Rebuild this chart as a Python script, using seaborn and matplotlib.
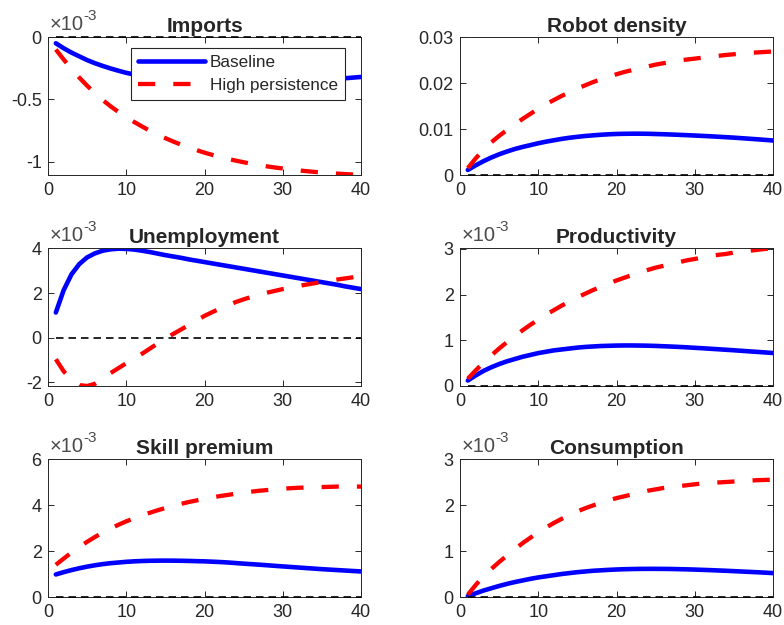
import numpy as np
import pandas as pd
import matplotlib
matplotlib.use("Agg")
import matplotlib.pyplot as plt
from matplotlib.ticker import FuncFormatter
import seaborn as sns

# Impulse responses, horizon 1..40 (quarters)
horizon = list(range(1, 41))

imports_base = [-0.050, -0.090, -0.125, -0.155, -0.185, -0.210, -0.232, -0.252, -0.270, -0.287,
                -0.300, -0.313, -0.324, -0.334, -0.342, -0.350, -0.356, -0.361, -0.365, -0.368,
                -0.370, -0.372, -0.373, -0.373, -0.373, -0.372, -0.370, -0.368, -0.366, -0.363,
                -0.360, -0.357, -0.353, -0.349, -0.345, -0.340, -0.335, -0.330, -0.325, -0.320]
imports_high = [-0.100, -0.180, -0.255, -0.325, -0.390, -0.450, -0.505, -0.555, -0.600, -0.642,
                -0.680, -0.716, -0.750, -0.781, -0.810, -0.837, -0.862, -0.885, -0.906, -0.926,
                -0.944, -0.961, -0.976, -0.990, -1.003, -1.015, -1.026, -1.036, -1.045, -1.053,
                -1.061, -1.068, -1.074, -1.080, -1.085, -1.090, -1.094, -1.098, -1.101, -1.104]

robots_base = [0.110, 0.210, 0.300, 0.380, 0.450, 0.510, 0.565, 0.610, 0.650, 0.690,
               0.725, 0.755, 0.785, 0.810, 0.830, 0.848, 0.862, 0.875, 0.885, 0.892,
               0.896, 0.898, 0.898, 0.896, 0.891, 0.886, 0.880, 0.873, 0.866, 0.858,
               0.850, 0.841, 0.832, 0.822, 0.812, 0.800, 0.788, 0.776, 0.763, 0.750]
robots_high = [0.15, 0.36, 0.55, 0.71, 0.85, 0.98, 1.10, 1.22, 1.33, 1.44,
               1.54, 1.63, 1.72, 1.80, 1.88, 1.95, 2.02, 2.08, 2.14, 2.19,
               2.24, 2.28, 2.32, 2.36, 2.40, 2.43, 2.46, 2.49, 2.51, 2.53,
               2.55, 2.57, 2.59, 2.61, 2.625, 2.64, 2.655, 2.665, 2.675, 2.685]

unemp_base = [1.13, 2.13, 2.84, 3.30, 3.60, 3.78, 3.90, 3.96, 3.99, 3.98,
              3.95, 3.90, 3.84, 3.77, 3.70, 3.64, 3.58, 3.51, 3.45, 3.39,
              3.33, 3.27, 3.21, 3.15, 3.09, 3.03, 2.97, 2.91, 2.85, 2.79,
              2.73, 2.67, 2.61, 2.55, 2.49, 2.43, 2.37, 2.30, 2.24, 2.18]
unemp_high = [-0.96, -1.50, -1.88, -2.12, -2.16, -2.06, -1.82, -1.58, -1.36, -1.14,
              -0.93, -0.72, -0.49, -0.26, -0.04, 0.17, 0.37, 0.57, 0.77, 0.98,
              1.15, 1.31, 1.46, 1.60, 1.72, 1.83, 1.93, 2.02, 2.10, 2.18,
              2.25, 2.32, 2.38, 2.44, 2.50, 2.55, 2.61, 2.66, 2.71, 2.76]

prod_base = [0.12, 0.23, 0.33, 0.41, 0.48, 0.54, 0.59, 0.64, 0.68, 0.72,
             0.75, 0.78, 0.80, 0.82, 0.84, 0.855, 0.865, 0.875, 0.88, 0.885,
             0.887, 0.887, 0.885, 0.882, 0.877, 0.870, 0.863, 0.855, 0.846, 0.836,
             0.826, 0.815, 0.804, 0.793, 0.782, 0.770, 0.758, 0.746, 0.734, 0.722]
prod_high = [0.16, 0.34, 0.51, 0.67, 0.82, 0.96, 1.09, 1.22, 1.34, 1.45,
             1.56, 1.66, 1.76, 1.85, 1.94, 2.02, 2.10, 2.17, 2.24, 2.31,
             2.37, 2.43, 2.49, 2.54, 2.59, 2.63, 2.67, 2.71, 2.75, 2.78,
             2.81, 2.84, 2.87, 2.89, 2.92, 2.94, 2.96, 2.98, 3.00, 3.01]

skill_base = [0.98, 1.08, 1.17, 1.25, 1.32, 1.38, 1.43, 1.47, 1.50, 1.53,
              1.55, 1.565, 1.575, 1.58, 1.582, 1.58, 1.575, 1.568, 1.558, 1.55,
              1.535, 1.52, 1.50, 1.475, 1.45, 1.428, 1.405, 1.38, 1.355, 1.33,
              1.306, 1.282, 1.258, 1.234, 1.21, 1.19, 1.17, 1.15, 1.13, 1.11]
skill_high = [1.40, 1.67, 1.93, 2.17, 2.40, 2.61, 2.80, 2.98, 3.14, 3.29,
              3.42, 3.55, 3.66, 3.77, 3.87, 3.96, 4.05, 4.13, 4.20, 4.27,
              4.33, 4.39, 4.44, 4.49, 4.54, 4.58, 4.62, 4.65, 4.68, 4.71,
              4.73, 4.75, 4.76, 4.77, 4.78, 4.79, 4.80, 4.80, 4.80, 4.80]

cons_base = [0.02, 0.08, 0.14, 0.19, 0.24, 0.285, 0.325, 0.36, 0.395, 0.425,
             0.45, 0.475, 0.50, 0.52, 0.54, 0.555, 0.57, 0.58, 0.59, 0.598,
             0.604, 0.608, 0.611, 0.612, 0.612, 0.611, 0.609, 0.605, 0.601, 0.596,
             0.59, 0.584, 0.577, 0.57, 0.562, 0.554, 0.546, 0.538, 0.529, 0.52]
cons_high = [0.05, 0.26, 0.45, 0.61, 0.76, 0.90, 1.04, 1.17, 1.29, 1.40,
             1.51, 1.61, 1.70, 1.78, 1.86, 1.93, 1.99, 2.05, 2.10, 2.15,
             2.19, 2.23, 2.27, 2.31, 2.34, 2.37, 2.39, 2.41, 2.43, 2.45,
             2.47, 2.48, 2.49, 2.50, 2.51, 2.52, 2.53, 2.54, 2.545, 2.55]

titles = ["Imports", "Robot density", "Unemployment", "Productivity",
          "Skill premium", "Consumption"]
series_names = ["Baseline", "High persistence"]

# (baseline, high persistence, scale, y-limits in plotted units, y-ticks)
panels = [
    (imports_base, imports_high, 1e-3, (-1.105, 0.0), [-1, -0.5, 0]),
    (robots_base, robots_high, 1e-2, (0.0, 3.0), [0, 1, 2, 3]),
    (unemp_base, unemp_high, 1e-3, (-2.16, 4.02), [-2, 0, 2, 4]),
    (prod_base, prod_high, 1e-3, (0.0, 3.02), [0, 1, 2, 3]),
    (skill_base, skill_high, 1e-3, (0.0, 6.0), [0, 2, 4, 6]),
    (cons_base, cons_high, 1e-3, (0.0, 3.0), [0, 1, 2, 3]),
]
show_exponent = [True, False, True, True, True, True]

sns.set_style("ticks")
plt.rcParams["font.family"] = ["Liberation Sans", "DejaVu Sans"]

axis_color = "#262626"
exp_color = "#4a4a4a"
fig = plt.figure(figsize=(7.84, 6.25), dpi=100)

col_x = [48 / 784, 460 / 784]
ax_w = 313 / 784
row_top = [37, 248, 459]
ax_h = 138 / 625

axes = []
for i, (base, high, scale, ylim, yticks) in enumerate(panels):
    r, c = divmod(i, 2)
    top = row_top[r]
    ax = fig.add_axes([col_x[c], 1 - (top + 138) / 625, ax_w, ax_h])
    axes.append(ax)

    df = pd.DataFrame({
        "t": horizon * 2,
        "value": np.array(base + high) * scale,
        "case": [series_names[0]] * 40 + [series_names[1]] * 40,
    })
    sns.lineplot(data=df[df["case"] == series_names[0]], x="t", y="value",
                 ax=ax, color="#0000ff", linewidth=3.3, legend=False,
                 label=series_names[0])
    sns.lineplot(data=df[df["case"] == series_names[1]], x="t", y="value",
                 ax=ax, color="#ff0000", linewidth=3.1, legend=False,
                 linestyle=(0, (4.0, 4.2)), label=series_names[1])
    ax.plot(horizon, np.zeros(40), color="black", linewidth=1.2,
            linestyle=(0, (4.5, 3.0)), clip_on=False, zorder=3)

    ax.set_xlim(0, 40)
    ax.set_ylim(ylim[0] * scale, ylim[1] * scale)
    ax.set_xticks([0, 10, 20, 30, 40])
    ax.set_yticks([v * scale for v in yticks])
    if show_exponent[i]:
        ax.yaxis.set_major_formatter(FuncFormatter(lambda v, p: f"{v * 1e3:g}"))
        t = ax.text(0.004, 1.02, "\u00d710", transform=ax.transAxes,
                    ha="left", va="bottom", fontsize=14.5, color=exp_color)
        ax.annotate("-3", xy=(1.0, 0.58), xycoords=t, ha="left", va="bottom",
                    fontsize=11, color=exp_color)
    else:
        ax.yaxis.set_major_formatter(FuncFormatter(lambda v, p: f"{v:g}"))

    ax.set_xlabel("")
    ax.set_ylabel("")
    ax.set_title(titles[i], fontsize=15, fontweight="bold", pad=3.5)
    ax.tick_params(direction="in", length=4, width=0.7, top=True, right=True,
                   labelsize=13, colors=axis_color)
    ax.tick_params(axis="x", pad=5)
    ax.tick_params(axis="y", pad=4.5)
    for sp in ax.spines.values():
        sp.set_visible(True)
        sp.set_color(axis_color)
        sp.set_linewidth(0.7)

handles, labels = axes[0].get_legend_handles_labels()
leg = axes[0].legend(handles[:2], labels[:2], loc="upper right",
                     bbox_to_anchor=(0.949, 0.921), borderaxespad=0,
                     fontsize=12.3, handlelength=3.9, handletextpad=0.3,
                     borderpad=0.4, labelspacing=0.5, fancybox=False,
                     framealpha=1, edgecolor=axis_color)
leg.get_frame().set_linewidth(0.8)

fig.savefig("out.png", dpi=100)
